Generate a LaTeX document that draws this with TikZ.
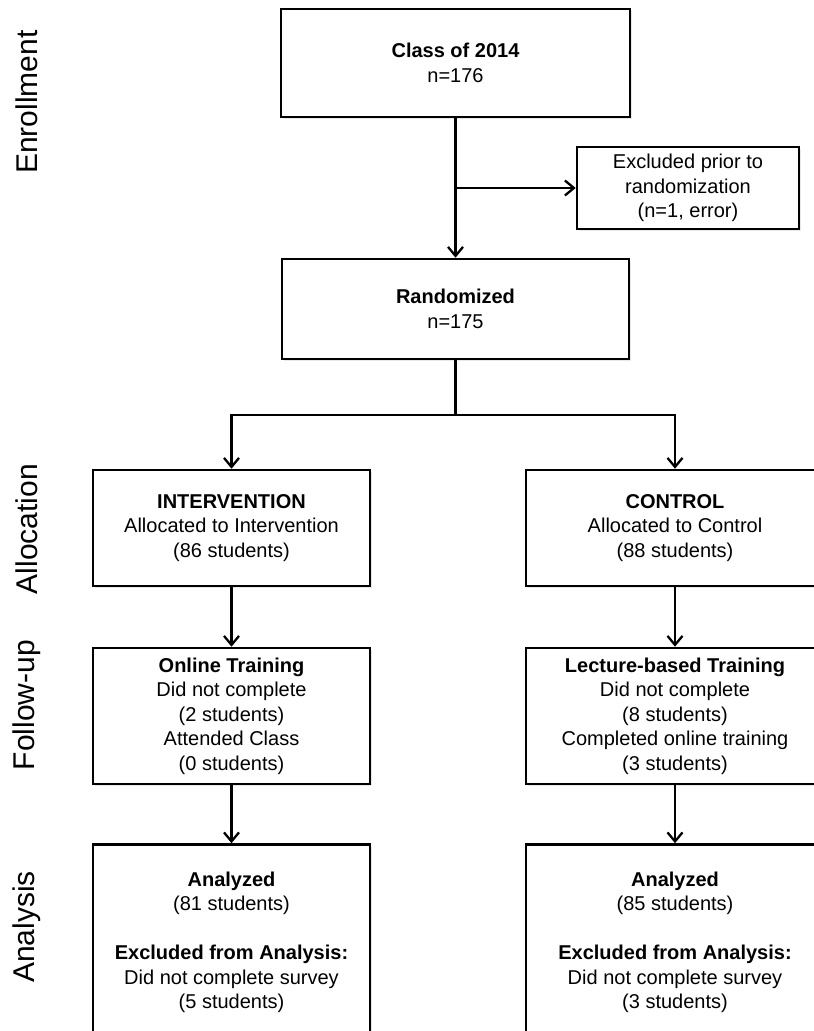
\documentclass[tikz,border=0pt]{standalone}
\usepackage{fontspec}
\setmainfont{Liberation Sans}
\usetikzlibrary{arrows.meta,positioning,calc,shadows}

\begin{document}
\begin{tikzpicture}[
  x=1pt, y=-1pt,
  font=\fontsize{20}{24.5}\selectfont,
  >={Straight Barb[length=9pt,width=15pt]},
  stagebox/.style={
    rectangle, draw=black, fill=white, line width=2.6pt, align=center,
    inner sep=0pt, text=black,
    drop shadow={shadow xshift=2pt, shadow yshift=-2pt, opacity=0.18}
  },
  phaselabel/.style={rotate=90, font=\fontsize{30}{34}\selectfont, inner sep=0pt},
  flow/.style={->, line width=2.3pt, draw=black},
]
\useasboundingbox (0,0) rectangle (814,1031);
\clip (0,0) rectangle (814,1031);

% phase labels down the left side
\node[phaselabel] (lenrol) at (27,102) {Enrollment};
\node[phaselabel] (lalloc) at (27,529) {Allocation};
\node[phaselabel] (lfollow) at (27,705) {Follow-up};
\node[phaselabel] (lanalys) at (27,927) {Analysis};

% enrollment
\node[stagebox, minimum width=349pt, minimum height=108pt] (cohort) at (455.5,63)
  {\textbf{Class of 2014}\\n=176};
\node[stagebox, minimum width=222pt, minimum height=82pt] (excl) at (688,188)
  {Excluded prior to\\randomization\\(n=1, error)};
\node[stagebox, minimum width=347pt, minimum height=100pt] (rand) at (455.5,309)
  {\textbf{Randomized}\\n=175};

% two arms
\node[stagebox, minimum width=277pt, minimum height=116pt] (intv) at (231.5,528)
  {\textbf{INTERVENTION}\\Allocated to Intervention\\(86 students)};
\node[stagebox, minimum width=298pt, minimum height=116pt] (ctrl) at (675,528)
  {\textbf{CONTROL}\\Allocated to Control\\(88 students)};

\node[stagebox, minimum width=277pt, minimum height=136pt] (online) at (231.5,716)
  {\textbf{Online Training}\\Did not complete\\(2 students)\\Attended Class\\(0 students)};
\node[stagebox, minimum width=298pt, minimum height=136pt] (lecture) at (675,716)
  {\textbf{Lecture-based Training}\\Did not complete\\(8 students)\\Completed online training\\(3 students)};

\node[stagebox, minimum width=277pt, minimum height=196pt] (anaint) at (231.5,942.5)
  {\textbf{Analyzed}\\(81 students)\\[24.5pt]\textbf{Excluded from Analysis:}\\Did not complete survey\\(5 students)};
\node[stagebox, minimum width=298pt, minimum height=196pt] (anactl) at (675,942.5)
  {\textbf{Analyzed}\\(85 students)\\[24.5pt]\textbf{Excluded from Analysis:}\\Did not complete survey\\(3 students)};

% connectors
\coordinate (split) at (cohort.south |- excl.west);
\coordinate (fork) at ($(rand.south)+(0,55)$);
\draw[flow] (cohort) -- (rand);
\draw[flow] (split) -- (excl.west);
\draw[line width=2.3pt] (rand.south) -- (fork);
\draw[flow] (fork) -| (intv.north);
\draw[flow] (fork) -| (ctrl.north);
\draw[flow] (intv) -- (online);
\draw[flow] (online) -- (anaint);
\draw[flow] (ctrl) -- (lecture);
\draw[flow] (lecture) -- (anactl);

\end{tikzpicture}
\end{document}
